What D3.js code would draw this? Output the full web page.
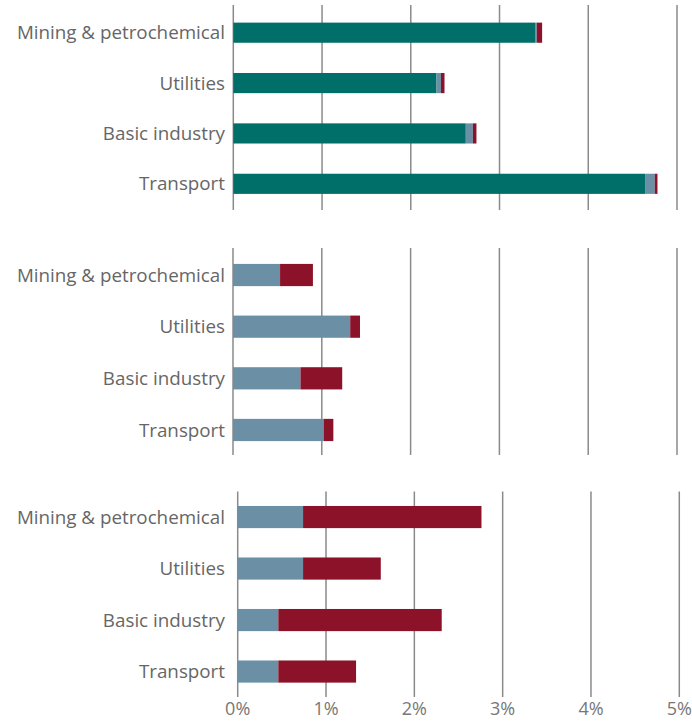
<!DOCTYPE html>
<html>
<head>
<meta charset="utf-8">
<script src="https://cdn.jsdelivr.net/npm/d3@7"></script>
<style>
  body { margin: 0; background: #fff; }
  text { font-family: "Open Sans", "Noto Sans", sans-serif; }
</style>
</head>
<body>
<div id="chart"></div>
<script>
// categories and tick labels
var sectors = ["Mining & petrochemical", "Utilities", "Basic industry", "Transport"];
var tickValues = [0, 1, 2, 3, 4, 5];

// series values per panel (percent)
var teal1 = [3.40, 2.29, 2.62, 4.64];
var grey1 = [0.02, 0.05, 0.08, 0.11];
var red1  = [0.06, 0.04, 0.04, 0.03];

var teal2 = [0, 0, 0, 0];
var grey2 = [0.53, 1.32, 0.76, 1.02];
var red2  = [0.37, 0.11, 0.47, 0.11];

var teal3 = [0, 0, 0, 0];
var grey3 = [0.74, 0.74, 0.46, 0.46];
var red3  = [2.02, 0.88, 1.85, 0.88];

var colors = ["#006f69", "#6b8fa5", "#8c1229"];
var seriesKeys = ["teal", "grey", "red"];

var svgWidth = 692;
var svgHeight = 722;

var svg = d3.select("#chart")
  .append("svg")
  .attr("width", svgWidth)
  .attr("height", svgHeight);

// each panel has its own box (the bottom one is shifted a bit in the original)
var panels = [
  { series: [teal1, grey1, red1], x0: 233.3, x1: 677, y0: 7.5, y1: 209, pad: 0.6, gridTop: 5, gridBottom: 210 },
  { series: [teal2, grey2, red2], x0: 233, x1: 677, y0: 249.2, y1: 455.8, pad: 0.57, gridTop: 248, gridBottom: 455 },
  { series: [teal3, grey3, red3], x0: 237.7, x1: 679.3, y0: 491.3, y1: 697.3, pad: 0.57, gridTop: 491.5, gridBottom: 697, axis: true }
];

panels.forEach(function(p) {
  var x = d3.scaleLinear().domain([0, 5]).range([p.x0, p.x1]);
  var y = d3.scaleBand().domain(sectors).range([p.y0, p.y1])
    .paddingInner(p.pad)
    .paddingOuter(p.pad / 2);

  var g = svg.append("g");

  // vertical gridlines
  g.selectAll("line.grid")
    .data(tickValues)
    .enter()
    .append("line")
    .attr("class", "grid")
    .attr("x1", d => x(d))
    .attr("x2", d => x(d))
    .attr("y1", p.gridTop)
    .attr("y2", p.gridBottom)
    .attr("stroke", "#8a8a8a")
    .attr("stroke-width", 1.5);

  // stack the three series
  var rows = sectors.map(function(s, i) {
    var r = { sector: s };
    seriesKeys.forEach(function(k, j) { r[k] = p.series[j][i]; });
    return r;
  });
  var stacked = d3.stack().keys(seriesKeys)(rows);

  g.selectAll("g.layer")
    .data(stacked)
    .enter()
    .append("g")
    .attr("class", "layer")
    .attr("fill", (d, i) => colors[i])
    .selectAll("rect")
    .data(d => d)
    .enter()
    .append("rect")
    .attr("x", d => x(d[0]))
    .attr("width", d => Math.max(0, x(d[1]) - x(d[0])))
    .attr("y", d => y(d.data.sector))
    .attr("height", y.bandwidth());

  // category labels
  g.selectAll("text.cat")
    .data(sectors)
    .enter()
    .append("text")
    .attr("class", "cat")
    .attr("x", 225)
    .attr("y", d => y(d) + y.bandwidth() / 2)
    .attr("dy", "0.35em")
    .attr("text-anchor", "end")
    .attr("font-size", 18.8)
    .attr("fill", "#666")
    .text(d => d);

  if (p.axis) {
    g.selectAll("text.tick")
      .data(tickValues)
      .enter()
      .append("text")
      .attr("class", "tick")
      .attr("x", d => x(d))
      .attr("y", 709)
      .attr("dy", "0.35em")
      .attr("text-anchor", "middle")
      .attr("font-size", 18)
      .attr("fill", "#777")
      .text(d => d + "%");
  }
});
</script>
</body>
</html>
